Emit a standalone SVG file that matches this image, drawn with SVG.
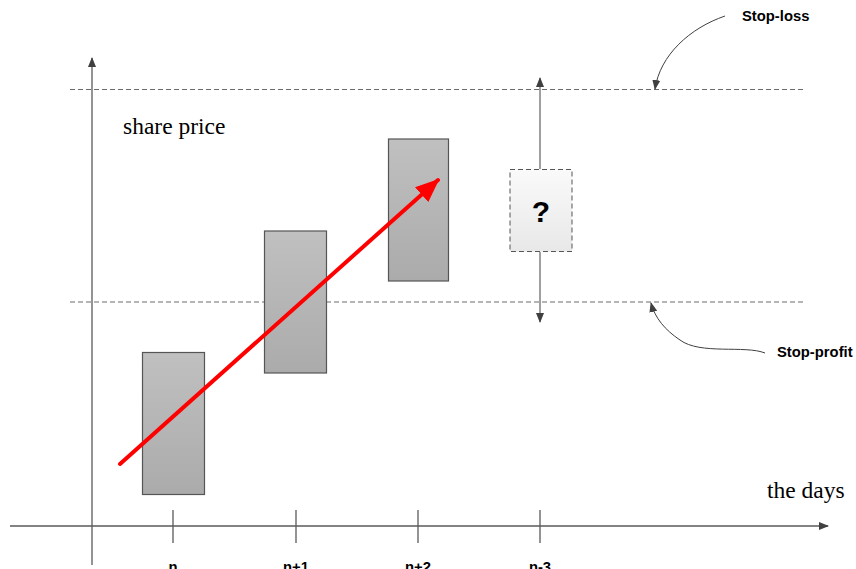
<svg xmlns="http://www.w3.org/2000/svg" width="856" height="569" viewBox="0 0 856 569">
<defs>
<style>
.axis{stroke:#5a5a5a;stroke-width:1.3;fill:none}
.dash{stroke:#6a6a6a;stroke-width:1;stroke-dasharray:5,3;fill:none}
.bar{fill:url(#g);stroke:#555;stroke-width:1.2}
.lbl{font-family:"Liberation Sans","Open Sans",sans-serif;font-weight:bold;font-size:14.8px;fill:#000}
.ser{font-family:"Liberation Serif","DejaVu Serif",serif;font-size:23.5px;fill:#000}
.curve{stroke:#404040;stroke-width:1;fill:none}
</style>
<linearGradient id="g" x1="0" y1="0" x2="0" y2="1"><stop offset="0" stop-color="#c0c0c0"/><stop offset="1" stop-color="#ababab"/></linearGradient>
<linearGradient id="q" x1="0" y1="0" x2="0" y2="1"><stop offset="0" stop-color="#fafafa"/><stop offset="1" stop-color="#e8e8e8"/></linearGradient>
<marker id="ah" markerWidth="10" markerHeight="10" refX="9" refY="5" orient="auto" markerUnits="userSpaceOnUse"><path d="M0,1 L10,5 L0,9 Z" fill="#404040"/></marker>
<marker id="rh" markerWidth="24" markerHeight="20" refX="22" refY="10" orient="auto" markerUnits="userSpaceOnUse"><path d="M0,0 L24,10 L0,20 Z" fill="#ff0000"/></marker>
</defs>
<g id="axes">
<line class="axis" x1="92" y1="565" x2="92" y2="58" marker-end="url(#ah)"/>
<line class="axis" x1="10" y1="526" x2="828" y2="526" marker-end="url(#ah)"/>
<line class="axis" x1="173" y1="510" x2="173" y2="543"/>
<line class="axis" x1="296" y1="510" x2="296" y2="543"/>
<line class="axis" x1="418" y1="510" x2="418" y2="543"/>
<line class="axis" x1="540" y1="510" x2="540" y2="543"/>
</g>
<g id="levels">
<line class="dash" x1="70" y1="89.5" x2="806" y2="89.5"/>
<line class="dash" x1="70" y1="302" x2="806" y2="302"/>
</g>
<g id="bar-n"><rect class="bar" x="142.5" y="352.5" width="62" height="142"/></g>
<g id="bar-n1"><rect class="bar" x="264.5" y="231" width="62" height="142"/></g>
<g id="bar-n2"><rect class="bar" x="388.5" y="139" width="60" height="142"/></g>
<g id="connectors">
<line x1="540" y1="169" x2="540" y2="78" class="curve" stroke-width="1.2" marker-end="url(#ah)"/>
<line x1="540" y1="252" x2="540" y2="322" class="curve" stroke-width="1.2" marker-end="url(#ah)"/>
<path class="curve" d="M725,16 C690,28 660,55 655,89" marker-end="url(#ah)"/>
<path class="curve" d="M765,353 C745,345 700,355 680,340 C665,330 655,318 651,303" marker-end="url(#ah)"/>
<line x1="120" y1="464" x2="438" y2="180" stroke="#ff0000" stroke-width="4" stroke-linecap="round" marker-end="url(#rh)"/>
</g>
<g id="unknown">
<rect x="510" y="169.5" width="62" height="82" fill="url(#q)" stroke="#555" stroke-width="1" stroke-dasharray="5,3"/>
<text x="541" y="222" text-anchor="middle" font-family="Liberation Sans, sans-serif" font-weight="bold" font-size="30">?</text>
</g>
<g id="texts">
<text class="ser" x="123" y="134">share price</text>
<text class="ser" x="767" y="498">the days</text>
<text class="lbl" x="742" y="21">Stop-loss</text>
<text class="lbl" x="777" y="357">Stop-profit</text>
<text class="lbl" x="173" y="572" text-anchor="middle">n</text>
<text class="lbl" x="296" y="572" text-anchor="middle">n+1</text>
<text class="lbl" x="418" y="572" text-anchor="middle">n+2</text>
<text class="lbl" x="540" y="572" text-anchor="middle">n-3</text>
</g>
</svg>
